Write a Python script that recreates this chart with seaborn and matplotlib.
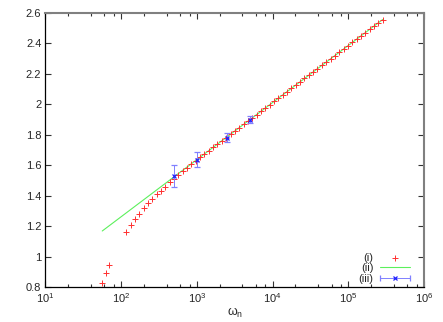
import numpy as np
import matplotlib
matplotlib.use("Agg")
import matplotlib.pyplot as plt
from matplotlib.container import ErrorbarContainer
from matplotlib.legend_handler import HandlerErrorbar
from matplotlib.ticker import LogLocator, FixedLocator, FormatStrFormatter, NullFormatter
import seaborn as sns

# (i) data points
omega_i = [56.2, 62.9, 69.7,
           116.7, 133.1, 152.1, 173.4, 198.2, 225.9, 257.6, 294.4, 335.7, 383.7,
           437.5, 498.9, 570.2, 650.1, 743.0, 847.2, 966.1, 1104, 1259, 1439,
           1641, 1871, 2138, 2438, 2786, 3177, 3622, 4140, 4721, 5395,
           6152, 7015, 8017, 9141, 10447, 11912, 13583, 15524, 17701, 20230,
           23067, 26303, 30061, 34277, 39174, 44668, 50933, 58210, 66374, 75858,
           86497, 98628, 112720, 128530, 146890, 167490, 190990, 218270, 248890, 284440]
val_i = [0.828, 0.894, 0.946,
         1.163, 1.207, 1.249, 1.282, 1.317, 1.350, 1.380, 1.409, 1.433, 1.459,
         1.488, 1.512, 1.536, 1.560, 1.584, 1.606, 1.628, 1.651, 1.673, 1.695,
         1.717, 1.739, 1.761, 1.782, 1.804, 1.825, 1.847, 1.868, 1.890, 1.912,
         1.933, 1.954, 1.976, 1.997, 2.019, 2.041, 2.062, 2.084, 2.105, 2.127,
         2.148, 2.170, 2.191, 2.213, 2.234, 2.256, 2.277, 2.299, 2.320, 2.342,
         2.364, 2.385, 2.407, 2.428, 2.450, 2.471, 2.493, 2.514, 2.536, 2.557]

# (ii) fitted line
omega_ii = [56.2, 284440]
val_ii = [1.168, 2.557]

# (iii) points with error bars
omega_iii = [500, 1000, 2500, 5000]
val_iii = [1.529, 1.636, 1.781, 1.899]
err_iii = [0.070, 0.050, 0.030, 0.024]

labels = ["(i)", "(ii)", "(iii)"]
yticks = [0.8, 1.0, 1.2, 1.4, 1.6, 1.8, 2.0, 2.2, 2.4, 2.6]

sns.set_style("ticks")
plt.rcParams["font.family"] = ["Liberation Sans", "DejaVu Sans"]
plt.rcParams["mathtext.fontset"] = "custom"
plt.rcParams["mathtext.rm"] = "Liberation Sans"
plt.rcParams["mathtext.it"] = "Liberation Sans"
plt.rcParams["mathtext.default"] = "regular"

fig = plt.figure(figsize=(4.43, 3.22), dpi=100)
ax = fig.add_axes([0.1027, 0.1087, 0.8544, 0.8509])

sns.scatterplot(x=omega_i, y=val_i, marker="+", s=14, color="#ff3030",
                linewidth=0.7, ax=ax, label=labels[0], zorder=3)
sns.lineplot(x=omega_ii, y=val_ii, color="#5cf05c", linewidth=0.8, ax=ax,
             label=labels[1], zorder=2)
ax.errorbar(omega_iii, val_iii, yerr=err_iii, fmt="x", color="#2020ff", ms=3.5,
            mew=0.9, ecolor="#8080ff", elinewidth=0.7, capsize=2.5, capthick=0.7,
            zorder=4)
# dummy container, only for the legend sample (horizontal bar like gnuplot)
leg_eb = ax.errorbar([np.nan], [np.nan], xerr=[1.0], fmt="x", color="#2020ff", ms=3.5,
                     mew=0.9, ecolor="#8080ff", elinewidth=0.7, capsize=2.5,
                     capthick=0.7, label=labels[2])

ax.set_xscale("log")
ax.set_xlim(10, 1e6)
ax.set_ylim(0.8, 2.6)
ax.xaxis.set_major_locator(LogLocator(base=10, numticks=10))
ax.xaxis.set_minor_locator(LogLocator(base=10, subs=[2, 4, 6, 8], numticks=10))
ax.xaxis.set_minor_formatter(NullFormatter())
ax.yaxis.set_major_locator(FixedLocator(yticks))
ax.yaxis.set_major_formatter(FormatStrFormatter("%g"))

ax.tick_params(which="both", direction="in", top=True, right=True, labelsize=8,
               width=0.8, color="#333333", pad=3)
ax.tick_params(which="major", length=4)
ax.tick_params(which="minor", length=2)
for side in ["left", "bottom"]:
    ax.spines[side].set_color("black")
    ax.spines[side].set_linewidth(0.9)
for side in ["top", "right"]:
    ax.spines[side].set_color("#808080")
    ax.spines[side].set_linewidth(1.5)

ax.set_xlabel(r"$\omega_n$", fontsize=9, labelpad=1)
ax.set_ylabel("")

handles, lbls = ax.get_legend_handles_labels()
order = [lbls.index(l) for l in labels]
leg = ax.legend([handles[i] for i in order], [lbls[i] for i in order],
                loc="lower right", bbox_to_anchor=(0.963, 0.012), frameon=False,
                fontsize=8, markerfirst=False, handlelength=2.7, handletextpad=0.6,
                labelspacing=0.05, borderaxespad=0, borderpad=0, scatterpoints=1,
                handler_map={ErrorbarContainer: HandlerErrorbar(xerr_size=1.35)})

fig.savefig("out.png", dpi=100)
